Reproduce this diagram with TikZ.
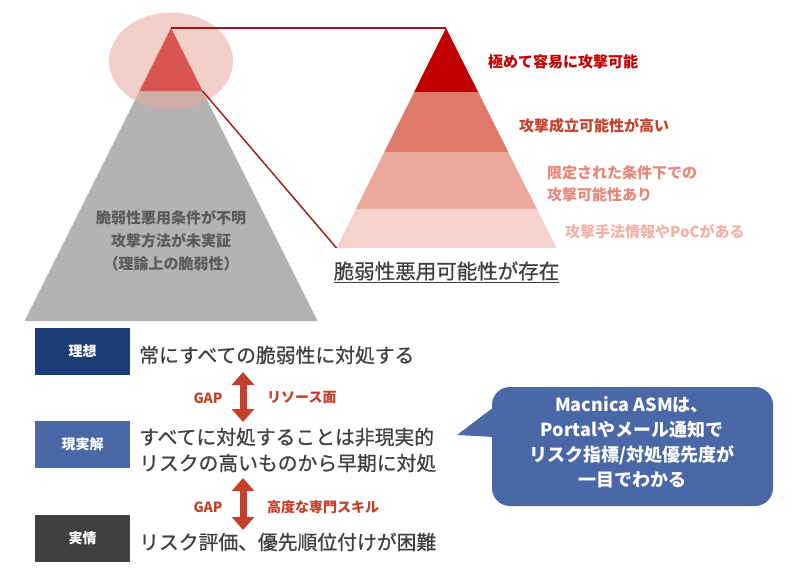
\documentclass[tikz,border=0pt]{standalone}
\usepackage{fontspec}
\setmainfont{Noto Sans CJK JP}
\newfontfamily\jpmed[FakeBold=0.7]{Noto Sans CJK JP}
\usetikzlibrary{arrows.meta}
\definecolor{grayT}{HTML}{B3B3B3}
\definecolor{ellC}{HTML}{E8A89C}
\definecolor{redT}{HTML}{D9534F}
\definecolor{lnC}{HTML}{A31515}
\definecolor{p1}{HTML}{C00000}
\definecolor{p2}{HTML}{E07B6B}
\definecolor{p3}{HTML}{EDA99C}
\definecolor{p4}{HTML}{F6D4CD}
\definecolor{l2}{HTML}{C4422E}
\definecolor{l3}{HTML}{E5887A}
\definecolor{l4}{HTML}{F0B2A7}
\definecolor{navy}{HTML}{1C3C78}
\definecolor{midblue}{HTML}{4A68A7}
\definecolor{dgray}{HTML}{404040}
\definecolor{txtgray}{HTML}{404040}
\definecolor{trigray}{HTML}{5A5A5A}
\definecolor{gapred}{HTML}{C4402A}
\begin{document}
\begin{tikzpicture}[x=1pt,y=-1pt,
  lbox/.style={minimum width=95pt,minimum height=47pt,inner sep=0pt,text=white,font=\fontsize{14}{16}\selectfont\bfseries},
  bigtxt/.style={anchor=west,inner sep=0pt,text=txtgray,font=\jpmed\fontsize{19.8}{26}\selectfont},
  gaptxt/.style={inner sep=0pt,text=gapred,font=\fontsize{14}{16}\selectfont\bfseries},
  gaparrow/.style={gapred,line width=7pt,{Triangle[width=22pt,length=13pt]}-{Triangle[width=22pt,length=13pt]}},
  connector/.style={lnC,line width=1.4pt},
  plabel/.style={anchor=west,inner sep=0pt,font=\fontsize{15}{22}\selectfont\bfseries,align=left}
]
\useasboundingbox (0,0) rectangle (808,581);
\fill[white] (0,0) rectangle (808,581);

% left pyramid
\fill[grayT] (171,28) -- (317.5,321) -- (24.5,321) -- cycle;
\fill[ellC,fill opacity=0.55] (171,61) ellipse [x radius=62, y radius=48.5];
\fill[redT] (171,28) -- (202.5,91) -- (139.5,91) -- cycle;
\node[inner sep=0pt,text=trigray,align=center,font=\fontsize{15}{23}\selectfont\bfseries] (lt) at (171,241)
  {脆弱性悪用条件が不明\\攻撃方法が未実証\\（理論上の脆弱性）};

% right pyramid
\begin{scope}
\clip (446,28) -- (556.5,248) -- (336.5,248) -- cycle;
\fill[p1] (300,0) rectangle (600,92);
\fill[p2] (300,92) rectangle (600,152);
\fill[p3] (300,152) rectangle (600,209);
\fill[p4] (300,209) rectangle (600,250);
\end{scope}

% connectors
\coordinate (lapex) at (171,28);
\coordinate (rapex) at (446,28);
\coordinate (lred) at (202.5,91);
\coordinate (rbase) at (336.5,248);
\draw[connector] (lapex) -- (rapex);
\draw[connector] (lred) -- (rbase);

% right labels
\node[plabel,text=p1] (r1) at (488,62) {極めて容易に攻撃可能};
\node[plabel,text=l2] (r2) at (519,126) {攻撃成立可能性が高い};
\node[plabel,text=l3] (r3) at (547,184) {限定された条件下での\\攻撃可能性あり};
\node[plabel,text=l4] (r4) at (565,232) {攻撃手法情報やPoCがある};

\node[inner sep=0pt,text=txtgray,font=\jpmed\fontsize{20.5}{24}\selectfont] (title) at (446.5,272) {\underline{脆弱性悪用可能性が存在}};

% bottom boxes
\node[lbox,fill=navy] (b1) at (82.5,351.5) {理想};
\node[lbox,fill=midblue] (b2) at (82.5,444.5) {現実解};
\node[lbox,fill=dgray] (b3) at (82.5,538) {実情};

\node[bigtxt] (t1) at (139,355) {常にすべての脆弱性に対処する};
\node[bigtxt] (t2a) at (139,437) {すべてに対処することは非現実的};
\node[bigtxt] (t2b) at (139,463) {リスクの高いものから早期に対処};
\node[bigtxt] (t3) at (139,542) {リスク評価、優先順位付けが困難};

% GAP arrows
\coordinate (a1t) at (243,372);
\coordinate (a1b) at (243,422);
\coordinate (a2t) at (243,478);
\coordinate (a2b) at (243,530);
\draw[gaparrow] (a1t) -- (a1b);
\draw[gaparrow] (a2t) -- (a2b);
\node[gaptxt] (g1) at (208,398) {GAP};
\node[gaptxt,anchor=west] (g1r) at (267,398) {リソース面};
\node[gaptxt] (g2) at (208,507) {GAP};
\node[gaptxt,anchor=west] (g2r) at (267,507) {高度な専門スキル};

% callout
\fill[midblue,rounded corners=18pt] (492,387) rectangle (773,506);
\fill[midblue] (494,407) -- (457,435) -- (494,437) -- cycle;
\node[inner sep=0pt,text=white,align=center,font=\fontsize{18}{25}\selectfont\bfseries] (call) at (632,442)
  {Macnica ASMは、\\Portalやメール通知で\\リスク指標/対処優先度が\\一目でわかる};
\end{tikzpicture}
\end{document}
